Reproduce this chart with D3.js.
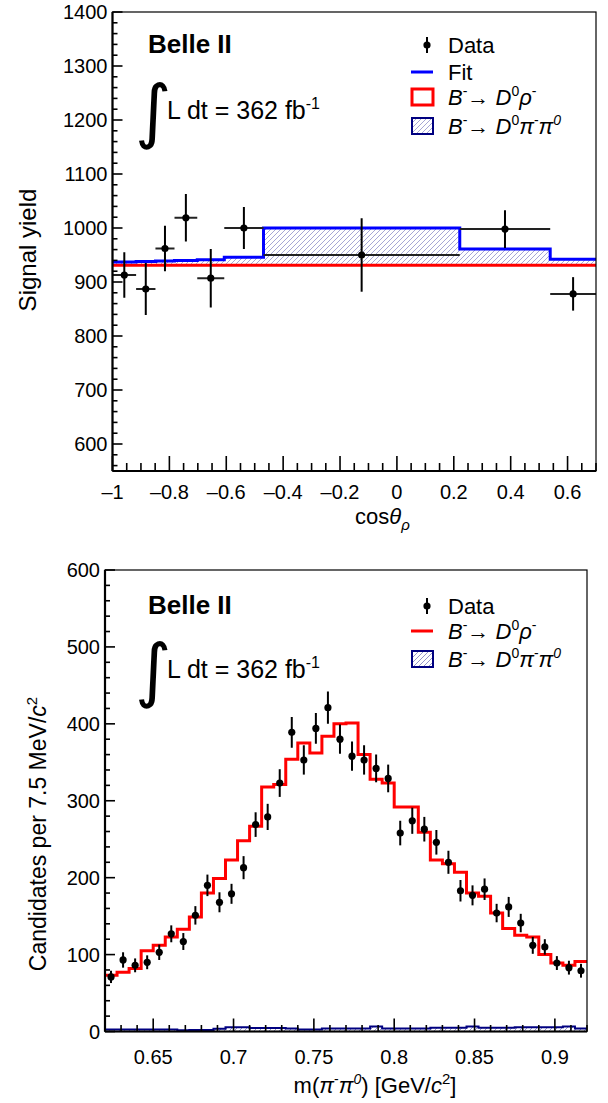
<!DOCTYPE html>
<html>
<head>
<meta charset="utf-8">
<script src="https://cdn.jsdelivr.net/npm/d3@7"></script>
<style>
  html, body { margin: 0; padding: 0; background: #fff; }
  svg { display: block; font-family: "Liberation Sans", Arial, Helvetica, sans-serif; }
</style>
</head>
<body>
<svg id="svg" width="608" height="1103"></svg>
<script>
// ── top panel: signal yield vs cos(theta_rho) ──────────────────────────────
const cosEdges  = [-1, -0.917, -0.849, -0.782, -0.702, -0.607, -0.469, 0.221, 0.539, 0.7];
const cosData   = [913, 887, 962, 1019, 907, 1000, 950, 998, 878];
const cosErr    = [42, 48, 42, 44, 54, 39, 68, 35, 31];
const cosFit    = [937, 938, 939, 940, 941, 946, 1000, 961, 942];
const cosRho    = [931, 931, 931, 931, 931, 931, 931, 931, 931];
const cosXTicks = [-1, -0.8, -0.6, -0.4, -0.2, 0, 0.2, 0.4, 0.6];
const cosYTicks = [600, 700, 800, 900, 1000, 1100, 1200, 1300, 1400];

// ── bottom panel: m(pi- pi0), 40 bins of 7.5 MeV ──────────────────────────
const mLo = 0.62, mBin = 0.0075;
const mData = [71, 93, 86, 90, 103, 127, 117, 151, 190, 168, 179, 213, 269, 279, 323, 389, 353, 394, 421, 380,
               358, 353, 342, 329, 258, 274, 263, 246, 220, 183, 177, 185, 154, 162, 141, 112, 110, 89, 83, 79];
const mErr  = [8, 10, 9, 9, 10, 11, 11, 12, 14, 13, 13, 15, 16, 17, 18, 20, 19, 20, 21, 19,
               19, 19, 18, 18, 16, 17, 16, 16, 15, 14, 13, 14, 12, 13, 12, 11, 10, 9, 9, 9];
const mRho  = [73, 77, 82, 105, 112, 123, 133, 149, 180, 199, 223, 248, 267, 318, 321, 354, 375, 362, 384, 400,
               401, 360, 328, 323, 292, 292, 259, 223, 218, 207, 180, 176, 154, 134, 125, 123, 100, 89, 86, 91];
const mBkg  = [2.5, 2.5, 2.5, 2.5, 2.5, 2.5, 1.5, 2, 2, 3.5, 5.5, 5.5, 4.5, 4.5, 4.5, 4, 2.5, 2.5, 4, 4,
               4, 4, 6.5, 4, 4, 4, 4, 5, 5, 5, 6.5, 5, 5, 5, 5.5, 5.5, 5.5, 5.5, 6.5, 4];
const mXTicks = [0.65, 0.7, 0.75, 0.8, 0.85, 0.9];
const mYTicks = [0, 100, 200, 300, 400, 500, 600];

const svg = d3.select('#svg');
const FONT_TICK = 20;

const defs = svg.append('defs');
function hatch(id, color) {
  const p = defs.append('pattern').attr('id', id).attr('patternUnits', 'userSpaceOnUse')
    .attr('width', 5).attr('height', 5);
  p.append('path').attr('d', 'M-1,1 l2,-2 M0,5 l5,-5 M4,6 l2,-2')
    .attr('stroke', color).attr('stroke-width', 0.9);
}
hatch('hatchTop', '#9c9cd0');
hatch('hatchBot', '#8888c4');

// step histogram helpers
function stepPts(edges, vals) {
  const pts = vals.map((v, i) => [edges[i], v]);
  pts.push([edges[edges.length - 1], vals[vals.length - 1]]);
  return pts;
}

// draws frame, ticks and tick labels
function drawAxes(g, x, y, xMajor, xMinorStep, yMajor, yMinorStep, xFmt, opt) {
  const [x0, x1] = x.range(), [yb, yt] = y.range();
  const ax = g.append('g');
  const xd = x.domain();
  const xStart = Math.ceil(xd[0] / xMinorStep - 1e-6) * xMinorStep;
  for (let v = xStart; v <= xd[1] + 1e-9; v += xMinorStep) {
    const isMaj = xMajor.some(t => Math.abs(t - v) < 1e-6);
    ax.append('line').attr('x1', x(v)).attr('x2', x(v))
      .attr('y1', yb).attr('y2', yb - (isMaj ? opt.xMaj : opt.xMin))
      .attr('stroke', '#000').attr('stroke-width', 1.6);
  }
  const yd = y.domain();
  const yStart = Math.ceil(yd[0] / yMinorStep - 1e-6) * yMinorStep;
  for (let v = yStart; v <= yd[1] + 1e-9; v += yMinorStep) {
    const isMaj = yMajor.some(t => Math.abs(t - v) < 1e-6);
    ax.append('line').attr('y1', y(v)).attr('y2', y(v))
      .attr('x1', x0).attr('x2', x0 + (isMaj ? opt.yMaj : opt.yMin))
      .attr('stroke', '#000').attr('stroke-width', 1.6);
  }
  // frame
  ax.append('rect').attr('x', x0).attr('y', yt).attr('width', x1 - x0).attr('height', yb - yt)
    .attr('fill', 'none').attr('stroke', '#000').attr('stroke-width', 1.2);
  ax.append('line').attr('x1', x0).attr('x2', x1).attr('y1', yb).attr('y2', yb)
    .attr('stroke', '#000').attr('stroke-width', 2.2);
  ax.append('line').attr('x1', x0).attr('x2', x0).attr('y1', yb).attr('y2', yt)
    .attr('stroke', '#000').attr('stroke-width', 2.2);
  // labels
  xMajor.forEach(t => {
    ax.append('text').attr('x', x(t)).attr('y', yb + opt.xLab)
      .attr('text-anchor', 'middle').attr('font-size', FONT_TICK).text(xFmt(t));
  });
  yMajor.forEach(t => {
    ax.append('text').attr('x', x0 - 5).attr('y', y(t) + 7)
      .attr('text-anchor', 'end').attr('font-size', FONT_TICK).text(t);
  });
}

function dataPoint(g, cx, cy, dy) {
  g.append('line').attr('x1', cx).attr('x2', cx).attr('y1', cy - dy).attr('y2', cy + dy)
    .attr('stroke', '#000').attr('stroke-width', 2);
  g.append('circle').attr('cx', cx).attr('cy', cy).attr('r', 3.6).attr('fill', '#000');
}

function beLabel(g, bx, by, lx, ly) {
  g.append('text').attr('x', bx).attr('y', by).attr('font-size', 26).attr('font-weight', 'bold').text('Belle II');
  g.append('text').attr('x', lx - 32).attr('y', ly + 16).attr('font-size', 70)
    .attr('font-family', '"DejaVu Sans", sans-serif').text('∫');
  const t = g.append('text').attr('x', lx).attr('y', ly).attr('font-size', 25);
  t.append('tspan').text('L dt = 362 fb');
  t.append('tspan').attr('dy', -10).attr('font-size', 16).text('-1');
}

function decayText(g, x0, yb, pion) {
  const t = g.append('text').attr('x', x0).attr('y', yb).attr('font-size', 22);
  t.append('tspan').attr('font-style', 'italic').text('B');
  t.append('tspan').attr('dy', -9).attr('font-size', 14).text('-');
  t.append('tspan').attr('dy', 9).text('→ ');
  t.append('tspan').attr('font-style', 'italic').text('D');
  t.append('tspan').attr('dy', -9).attr('font-size', 14).text('0');
  if (!pion) {
    t.append('tspan').attr('dy', 9).attr('font-style', 'italic').text('ρ');
    t.append('tspan').attr('dy', -9).attr('font-size', 14).text('-');
  } else {
    t.append('tspan').attr('dy', 9).attr('font-style', 'italic').text('π');
    t.append('tspan').attr('dy', -9).attr('font-size', 14).text('-');
    t.append('tspan').attr('dy', 9).attr('font-style', 'italic').text('π');
    t.append('tspan').attr('dy', -9).attr('font-size', 14).attr('font-style', 'italic').text('0');
  }
}

const minusFmt = t => (t < 0 ? '–' + String(-t) : String(t));

// ════════════════════════════════════════════════════════════════════════════
// TOP PANEL
// ════════════════════════════════════════════════════════════════════════════
{
  const x = d3.scaleLinear([-1, 0.7], [112.5, 596]);
  const y = d3.scaleLinear([550, 1400], [471, 12]);
  const g = svg.append('g');

  const clip = defs.append('clipPath').attr('id', 'clipTop');
  clip.append('rect').attr('x', 112.5).attr('y', 12).attr('width', 483.5).attr('height', 459);
  const pg = g.append('g').attr('clip-path', 'url(#clipTop)');

  const rhoPts = stepPts(cosEdges, cosRho), fitPts = stepPts(cosEdges, cosFit);
  const area = d3.area().curve(d3.curveStepAfter)
    .x(d => x(d[0])).y0((d, i) => y(rhoPts[i][1])).y1(d => y(d[1]));
  pg.append('path').attr('d', area(fitPts)).attr('fill', 'url(#hatchTop)');

  const line = d3.line().curve(d3.curveStepAfter).x(d => x(d[0])).y(d => y(d[1]));
  pg.append('path').attr('d', line(rhoPts)).attr('fill', 'none').attr('stroke', '#ff0000').attr('stroke-width', 3);
  pg.append('path').attr('d', line(fitPts)).attr('fill', 'none').attr('stroke', '#0000ff').attr('stroke-width', 3);

  cosData.forEach((v, i) => {
    const c = (cosEdges[i] + cosEdges[i + 1]) / 2;
    pg.append('line').attr('x1', x(cosEdges[i])).attr('x2', x(cosEdges[i + 1]))
      .attr('y1', y(v)).attr('y2', y(v)).attr('stroke', '#222').attr('stroke-width', 2);
    dataPoint(pg, x(c), y(v), y(v - cosErr[i]) - y(v));
  });

  drawAxes(g, x, y, cosXTicks, 0.05, cosYTicks, 20, minusFmt,
    { xMaj: 15, xMin: 8, yMaj: 10, yMin: 5, xLab: 28 });

  // titles
  g.append('text').attr('transform', 'translate(36,250) rotate(-90)')
    .attr('text-anchor', 'middle').attr('font-size', 24).text('Signal yield');
  const xt = g.append('text').attr('x', 355).attr('y', 524).attr('font-size', 22);
  xt.append('tspan').text('cos');
  xt.append('tspan').attr('font-style', 'italic').text('θ');
  xt.append('tspan').attr('dy', 6).attr('font-size', 15).attr('font-style', 'italic').text('ρ');

  beLabel(g, 148, 53, 167, 119);

  // legend
  dataPoint(g, 427, 45, 8);
  g.append('text').attr('x', 448).attr('y', 53).attr('font-size', 22).text('Data');
  g.append('line').attr('x1', 411).attr('x2', 433).attr('y1', 72).attr('y2', 72)
    .attr('stroke', '#0000ff').attr('stroke-width', 3);
  g.append('text').attr('x', 448).attr('y', 80).attr('font-size', 22).text('Fit');
  g.append('rect').attr('x', 412).attr('y', 89).attr('width', 21).attr('height', 16)
    .attr('fill', 'none').attr('stroke', '#ff0000').attr('stroke-width', 3);
  decayText(g, 448, 105, false);
  g.append('rect').attr('x', 412).attr('y', 118).attr('width', 21).attr('height', 16)
    .attr('fill', 'url(#hatchTop)').attr('stroke', '#000080').attr('stroke-width', 2);
  decayText(g, 448, 134, true);
}

// ════════════════════════════════════════════════════════════════════════════
// BOTTOM PANEL
// ════════════════════════════════════════════════════════════════════════════
{
  const x = d3.scaleLinear([0.62, 0.92], [105, 587]);
  const y = d3.scaleLinear([0, 600], [1031.5, 570]);
  const g = svg.append('g');
  const edges = d3.range(mData.length + 1).map(i => mLo + i * mBin);

  const clip = defs.append('clipPath').attr('id', 'clipBot');
  clip.append('rect').attr('x', 105).attr('y', 570).attr('width', 482).attr('height', 461.5);
  const pg = g.append('g').attr('clip-path', 'url(#clipBot)');

  const bkgPts = stepPts(edges, mBkg), rhoPts = stepPts(edges, mRho);
  const area = d3.area().curve(d3.curveStepAfter).x(d => x(d[0])).y0(y(0)).y1(d => y(d[1]));
  pg.append('path').attr('d', area(bkgPts)).attr('fill', 'url(#hatchBot)');
  const line = d3.line().curve(d3.curveStepAfter).x(d => x(d[0])).y(d => y(d[1]));
  pg.append('path').attr('d', line(bkgPts)).attr('fill', 'none').attr('stroke', '#000080').attr('stroke-width', 2);
  pg.append('path').attr('d', line(rhoPts)).attr('fill', 'none').attr('stroke', '#ff0000').attr('stroke-width', 3);

  mData.forEach((v, i) => {
    const c = mLo + (i + 0.5) * mBin;
    dataPoint(pg, x(c), y(v), y(v - mErr[i]) - y(v));
  });

  drawAxes(g, x, y, mXTicks, 0.01, mYTicks, 20, t => String(t),
    { xMaj: 13, xMin: 6.5, yMaj: 10, yMin: 5, xLab: 32 });

  g.append('text').attr('transform', 'translate(46,834) rotate(-90)')
    .attr('text-anchor', 'middle').attr('font-size', 23)
    .call(t => {
      t.append('tspan').text('Candidates per 7.5 MeV/');
      t.append('tspan').attr('font-style', 'italic').text('c');
      t.append('tspan').attr('dy', -9).attr('font-size', 15).text('2');
    });
  const xt = g.append('text').attr('x', 375).attr('y', 1093).attr('text-anchor', 'middle').attr('font-size', 22);
  xt.append('tspan').text('m(');
  xt.append('tspan').attr('font-style', 'italic').text('π');
  xt.append('tspan').attr('dy', -9).attr('font-size', 14).text('-');
  xt.append('tspan').attr('dy', 9).attr('font-style', 'italic').text('π');
  xt.append('tspan').attr('dy', -9).attr('font-size', 14).attr('font-style', 'italic').text('0');
  xt.append('tspan').attr('dy', 9).text(') [GeV/');
  xt.append('tspan').attr('font-style', 'italic').text('c');
  xt.append('tspan').attr('dy', -9).attr('font-size', 15).text('2');
  xt.append('tspan').attr('dy', 9).text(']');

  beLabel(g, 148, 614, 167, 678);

  dataPoint(g, 427, 606, 8);
  g.append('text').attr('x', 448).attr('y', 614).attr('font-size', 22).text('Data');
  g.append('line').attr('x1', 411).attr('x2', 433).attr('y1', 631).attr('y2', 631)
    .attr('stroke', '#ff0000').attr('stroke-width', 3);
  decayText(g, 448, 639, false);
  g.append('rect').attr('x', 412).attr('y', 651).attr('width', 21).attr('height', 16)
    .attr('fill', 'url(#hatchBot)').attr('stroke', '#000080').attr('stroke-width', 2);
  decayText(g, 448, 667, true);
}
</script>
</body>
</html>
